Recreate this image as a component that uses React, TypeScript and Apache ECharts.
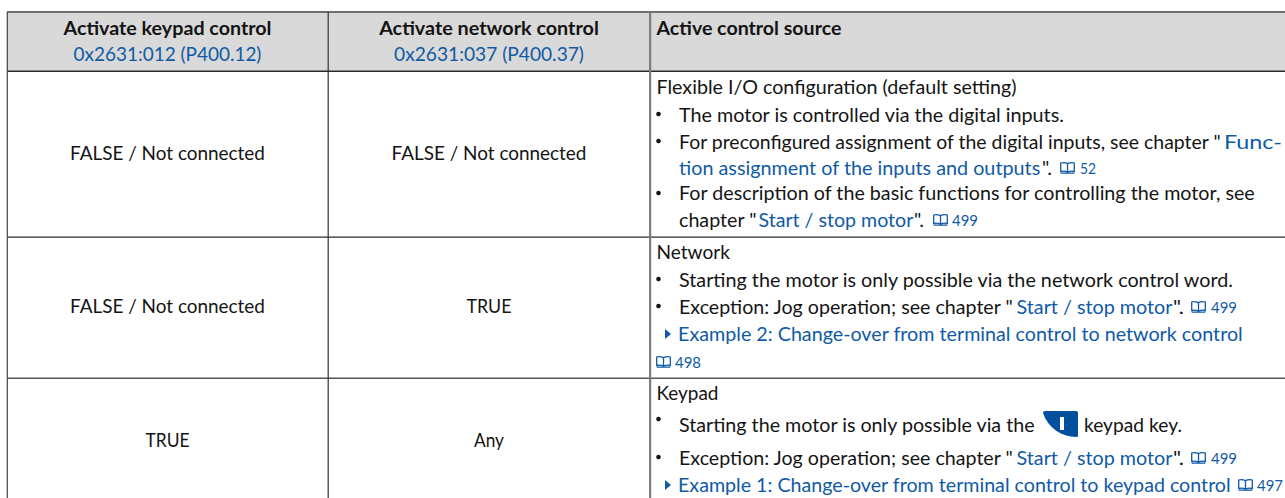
import React, { useEffect, useRef } from "react";
import * as echarts from "echarts";

const headers = ["Activate keypad control", "Activate network control", "Active control source"];
const parameterLinks = ["0x2631:012 (P400.12)", "0x2631:037 (P400.37)"];
const keypadValues = ["FALSE / Not connected", "FALSE / Not connected", "TRUE"];
const networkValues = ["FALSE / Not connected", "TRUE", "Any"];
const startStop = "Start / stop motor";
const pageRefs = ["52", "499", "498", "497"];

const FONT = "Lato, Carlito, Calibri, sans-serif";
const BLUE = "#0f5aa6";
const INK = "#141414";
const measure = document.createElement("canvas").getContext("2d")!;

function txt(text: string, x: number, y: number, w: number, o: any = {}) {
  const size = o.size ?? 18.5;
  const weight = o.bold ? "bold" : "normal";
  measure.font = `${weight} ${size}px Lato`;
  const m = measure.measureText(text).width || w;
  return {
    type: "text", x, y, scaleX: w / m, silent: true,
    style: {
      text, fill: o.color ?? INK, fontFamily: FONT, fontSize: size, fontWeight: weight,
      textAlign: o.align ?? "left", textVerticalAlign: "middle", verticalAlign: "middle",
    },
  };
}
const link = (t: string, x: number, y: number, w: number, o: any = {}) => txt(t, x, y, w, { ...o, color: BLUE });
const rect = (x: number, y: number, width: number, height: number, fill: string) => ({
  type: "rect", shape: { x, y, width, height }, style: { fill }, silent: true,
});
const bullet = (y: number) => ({ type: "circle", shape: { cx: 658.5, cy: y, r: 2.3 }, style: { fill: INK }, silent: true });
const tri = (y: number) => ({
  type: "polygon", shape: { points: [[665, y - 5], [671, y], [665, y + 5]] }, style: { fill: BLUE }, silent: true,
});
const book = (x: number, y: number) => ({
  type: "lkBook", x, y: y - 6, silent: true, style: { fill: "none", stroke: BLUE, lineWidth: 1.3 },
});
const pageRef = (t: string, bx: number, y: number, tx: number, w: number) => [
  book(bx, y),
  link(t, tx, y, w, { size: 15.5 }),
];

echarts.graphic.registerShape("lkBook", echarts.graphic.extendPath("M0.7 1 Q4 0 7.5 1.6 Q11 0 14.3 1 V9.5 Q11 8.6 7.5 10 Q4 8.6 0.7 9.5 Z M7.5 1.6 V10 M0.7 11.2 H14.3", {}) as any);
echarts.graphic.registerShape("lkKey", echarts.graphic.extendPath("M2 0 H33 Q35 0 35 2 V24.5 Q35 26 33.5 26 C18 25.5 5 17 0 2 Q0 0 2 0 Z", {}) as any);

export default function App() {
  const ref = useRef<HTMLDivElement>(null);
  useEffect(() => {
    const chart = echarts.init(ref.current!, null, { renderer: "svg" });
    const cx1 = 167.5, cx2 = 489;
    const elements: any[] = [
      rect(7, 12, 1278, 59, "#d9d9d9"),
      rect(7, 11, 1278, 2, "#6e6e6e"),
      rect(7, 70.5, 1278, 1.4, "#2a2a2a"),
      rect(7, 236.5, 1278, 1.2, "#2a2a2a"),
      rect(7, 377.5, 1278, 1.5, "#555555"),
      rect(6.7, 12, 1.2, 486, "#444444"),
      rect(327.6, 12, 1.2, 486, "#333333"),
      rect(649, 12, 2.2, 486, "#7d7d7d"),

      txt(headers[0], cx1, 28, 208, { bold: true, align: "center" }),
      link(parameterLinks[0], cx1, 54, 188, { align: "center" }),
      txt(headers[1], cx2, 28, 220, { bold: true, align: "center" }),
      link(parameterLinks[1], cx2, 54, 190, { align: "center" }),
      txt(headers[2], 656.5, 28, 185, { bold: true }),

      txt(keypadValues[0], cx1, 153, 195, { align: "center" }),
      txt(networkValues[0], cx2, 153, 195, { align: "center" }),
      txt(keypadValues[1], cx1, 306, 195, { align: "center" }),
      txt(networkValues[1], cx2, 306, 45, { align: "center" }),
      txt(keypadValues[2], cx1, 440, 44, { align: "center" }),
      txt(networkValues[2], cx2, 440, 30, { align: "center" }),

      txt("Flexible I/O configuration (default setting)", 656.5, 87, 360),
      bullet(114),
      txt("The motor is controlled via the digital inputs.", 679, 115, 386),
      bullet(141),
      txt('For preconfigured assignment of the digital inputs, see chapter "', 679, 142, 543),
      link("Func-", 1224, 142, 58),
      link("tion assignment of the inputs and outputs", 679, 168, 362),
      txt('".', 1042, 168, 10),
      ...pageRef(pageRefs[0], 1060, 168, 1080, 16),
      bullet(193),
      txt("For description of the basic functions for controlling the motor, see", 679, 193, 577),
      txt('chapter "', 679, 220, 78),
      link(startStop, 758.5, 220, 155),
      txt('".', 914, 220, 10),
      ...pageRef(pageRefs[1], 933, 220, 952, 26),

      txt("Network", 656.5, 252, 73.5),
      bullet(279),
      txt("Starting the motor is only possible via the network control word.", 679, 280, 556),
      bullet(306),
      txt('Exception: Jog operation; see chapter "', 679, 307, 335),
      link(startStop, 1016.5, 307, 156),
      txt('".', 1173, 307, 11),
      ...pageRef(pageRefs[1], 1191, 307, 1211, 26),
      tri(334),
      link("Example 2: Change-over from terminal control to network control", 678, 334, 565),
      ...pageRef(pageRefs[2], 656, 362, 675, 26),

      txt("Keypad", 656.5, 393, 62),
      bullet(419),
      txt("Starting the motor is only possible via the", 679, 425, 357),
      { type: "lkKey", x: 1043, y: 411, silent: true, style: { fill: "#00509e" } },
      rect(1060, 417, 4, 13, "#ffffff"),
      txt("keypad key.", 1084, 425, 98),
      bullet(457),
      txt('Exception: Jog operation; see chapter "', 679, 458, 335),
      link(startStop, 1016.5, 458, 156),
      txt('".', 1173, 458, 11),
      ...pageRef(pageRefs[1], 1191, 458, 1211, 26),
      tri(485),
      link("Example 1: Change-over from terminal control to keypad control", 678, 485, 553),
      ...pageRef(pageRefs[3], 1238, 485, 1257, 26),
    ];
    chart.setOption({ animation: false, backgroundColor: "#ffffff", graphic: { elements } });
    return () => chart.dispose();
  }, []);
  return <div ref={ref} style={{ position: "absolute", left: 0, top: 0, width: 1285, height: 498 }} />;
}
